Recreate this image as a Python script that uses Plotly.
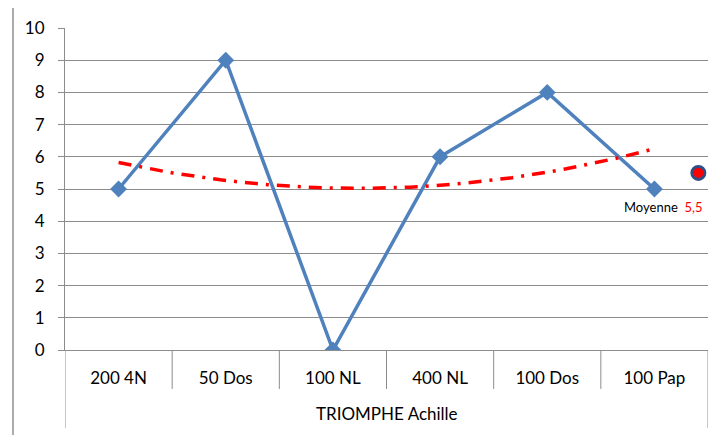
import numpy as np
import plotly.graph_objects as go

categories = ["200 4N", "50 Dos", "100 NL", "400 NL", "100 Dos", "100 Pap"]
values = [5, 9, 0, 6, 8, 5]
group_label = "TRIOMPHE Achille"
avg_label = "Moyenne"
y_ticks = list(range(0, 11))

idx = np.arange(len(categories))
avg = float(np.mean(values))
coef = np.polyfit(idx, values, 2)
tx = np.linspace(0, len(categories) - 1, 80)
ty = np.polyval(coef, tx)

FONT = "Lato, Carlito, 'Liberation Sans', sans-serif"
GRID = "#8C8C8C"

fig = go.Figure()
fig.add_trace(go.Scatter(
    x=idx, y=values, mode="lines+markers",
    line=dict(color="#4F81BD", width=3.5),
    marker=dict(symbol="diamond", size=13, color="#4F81BD"),
    showlegend=False, hoverinfo="skip"))
fig.add_trace(go.Scatter(
    x=tx, y=ty, mode="lines",
    line=dict(color="#FF0000", width=3.5, dash="13px,8px,3px,8px"),
    showlegend=False, hoverinfo="skip"))
fig.add_trace(go.Scatter(
    x=[len(categories) - 1 + 0.41], y=[avg], mode="markers",
    marker=dict(symbol="circle", size=13, color="#FF0000",
                line=dict(color="#2F4F86", width=3)),
    showlegend=False, hoverinfo="skip", cliponaxis=False))

avg_txt = f"{avg:.1f}".replace(".", ",")
fig.add_annotation(x=len(categories) - 1 + 0.08, y=avg - 1.05, xref="x", yref="y",
                   text=f"{avg_label}  <span style='color:#FF0000'>{avg_txt}</span>",
                   showarrow=False, font=dict(family=FONT, size=13, color="#000000"))

shapes = []
for b in np.arange(0.5, len(categories) - 1, 1.0):
    shapes.append(dict(type="line", xref="x", yref="paper", x0=b, x1=b,
                       y0=0, y1=-0.121, line=dict(color=GRID, width=1)))
for b in (-0.5, len(categories) - 0.5):
    shapes.append(dict(type="line", xref="x", yref="paper", x0=b, x1=b,
                       y0=0, y1=-0.242, line=dict(color=GRID, width=1)))
shapes.append(dict(type="rect", xref="paper", yref="paper",
                   x0=-0.0809, x1=1.05, y0=-0.35, y1=1.0714,
                   line=dict(color="#ABABAB", width=2), layer="below"))

fig.add_annotation(x=0.5, y=-0.196, xref="paper", yref="paper", text=group_label,
                   showarrow=False, font=dict(family=FONT, size=17, color="#000000"),
                   yanchor="middle")

fig.update_layout(
    width=716, height=435,
    margin=dict(l=57, r=16, t=20, b=93),
    paper_bgcolor="white", plot_bgcolor="white",
    shapes=shapes,
    xaxis=dict(range=[-0.5, len(categories) - 0.5], tickvals=list(idx), ticktext=categories,
               showgrid=False, zeroline=False, showline=True, linecolor=GRID, linewidth=1,
               ticks="", ticklabelstandoff=13, automargin=False,
               tickfont=dict(family=FONT, size=17, color="#000000")),
    yaxis=dict(range=[0, 10], tickvals=y_ticks, showgrid=True, gridcolor=GRID, gridwidth=1,
               zeroline=False, showline=True, linecolor=GRID, linewidth=1, automargin=False,
               ticks="outside", ticklen=6, tickcolor=GRID, ticklabelstandoff=10,
               tickfont=dict(family=FONT, size=17, color="#000000")),
)

fig.write_html("out.html")
